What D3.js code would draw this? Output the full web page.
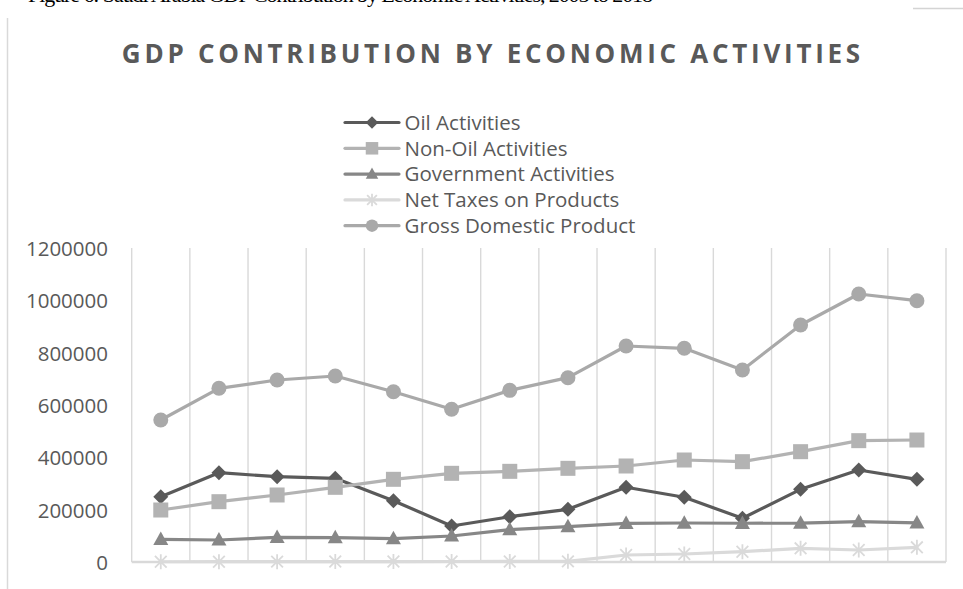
<!DOCTYPE html>
<html>
<head>
<meta charset="utf-8">
<script src="https://cdn.jsdelivr.net/npm/d3@7"></script>
<style>
  html, body { margin: 0; padding: 0; background: #ffffff; }
  svg { display: block; }
</style>
</head>
<body>
<svg id="chart" width="963" height="589"></svg>
<script>
// Years covered by the series (one point per year)
const categories = ["2005","2006","2007","2008","2009","2010","2011","2012","2013","2014","2015","2016","2017","2018"];

const seriesNames = ["Oil Activities","Non-Oil Activities","Government Activities","Net Taxes on Products","Gross Domestic Product"];

const oilActivities     = [249600, 341300, 326000, 319900, 234300, 137600, 173100, 201400, 285500, 247300, 167000, 277800, 351600, 316000];
const nonOilActivities  = [198700, 230500, 256100, 285400, 316000, 338900, 346500, 358000, 366900, 389800, 383400, 421600, 463700, 466200];
const govActivities     = [86700, 84100, 94400, 93000, 89000, 99400, 123600, 135000, 147800, 149000, 148000, 148500, 154100, 149500];
const netTaxes          = [1000, 1200, 1400, 1600, 1800, 2000, 2200, 2400, 26800, 30600, 39500, 52200, 45900, 56000];
const grossDomestic     = [542700, 663800, 695500, 710800, 650900, 583500, 656000, 704400, 825500, 816700, 733800, 905700, 1024200, 998600];

const yTicks = [0, 200000, 400000, 600000, 800000, 1000000, 1200000];

const seriesValues = [oilActivities, nonOilActivities, govActivities, netTaxes, grossDomestic];
const seriesColors = ["#5a5a5a", "#b3b3b3", "#878787", "#dadada", "#a9a9a9"];
const seriesMarkers = ["diamond", "square", "triangle", "star", "circle"];

const svg = d3.select("#chart");
const W = 963, H = 589;
const plot = { left: 131.7, right: 946, top: 248, bottom: 562 };
const textColor = "#595959";
const gridColor = "#d9d9d9";
const font = "'Open Sans', 'Noto Sans', sans-serif";

// Figure caption running off the top edge of the page
svg.append("text")
  .attr("x", 28).attr("y", 1.5)
  .attr("font-family", "'Liberation Serif', serif")
  .attr("font-size", 22)
  .attr("textLength", 625)
  .attr("lengthAdjust", "spacing")
  .attr("fill", "#000")
  .text("Figure 6: Saudi Arabia GDP Contribution by Economic Activities, 2005 to 2018");

// Chart frame fragments
svg.append("line")
  .attr("x1", 7.5).attr("x2", 7.5).attr("y1", 18).attr("y2", H)
  .attr("stroke", gridColor).attr("stroke-width", 1.5);
svg.append("line")
  .attr("x1", 913).attr("x2", W).attr("y1", 8.5).attr("y2", 8.5)
  .attr("stroke", "#d4d4d4").attr("stroke-width", 1.5);

// Title, spread to its full width
const title = svg.append("text")
  .attr("x", 491).attr("y", 63)
  .attr("text-anchor", "middle")
  .attr("font-family", font)
  .attr("font-weight", 700)
  .attr("font-size", 26)
  .attr("fill", textColor)
  .text("GDP CONTRIBUTION BY ECONOMIC ACTIVITIES");
{
  const str = title.text();
  const natural = title.node().getComputedTextLength();
  const spacing = (742 - natural) / (str.length);
  title.attr("letter-spacing", spacing + "px").attr("x", 491 + spacing / 2);
}

// Scales
const x = d3.scaleBand().domain(categories).range([plot.left, plot.right]).padding(0);
const y = d3.scaleLinear().domain([0, 1200000]).range([plot.bottom, plot.top]);
const cx = d => x(d) + x.bandwidth() / 2;

// Vertical gridlines at category boundaries
const boundaries = categories.map(c => x(c)).concat([x(categories[categories.length - 1]) + x.bandwidth()]);
svg.append("g").selectAll("line").data(boundaries).join("line")
  .attr("x1", d => d).attr("x2", d => d)
  .attr("y1", plot.top).attr("y2", plot.bottom)
  .attr("stroke", gridColor).attr("stroke-width", 1.4);

// Category axis baseline
svg.append("line")
  .attr("x1", plot.left).attr("x2", plot.right)
  .attr("y1", plot.bottom).attr("y2", plot.bottom)
  .attr("stroke", gridColor).attr("stroke-width", 2.4);

// Value axis labels
const yAxis = svg.append("g")
  .attr("transform", `translate(${108 + 0},0)`)
  .call(d3.axisLeft(y).tickValues(yTicks).tickFormat(d3.format("d")).tickSize(0).tickPadding(0));
yAxis.select(".domain").remove();
yAxis.selectAll("text")
  .attr("font-family", font)
  .attr("font-size", 20.5)
  .attr("fill", textColor)
  .attr("dy", "0.36em");

// Marker shapes
function drawMarker(g, type, color, px, py, s) {
  const h = s / 2;
  if (type === "diamond") {
    g.append("path").attr("d", `M${px},${py - h}L${px + h},${py}L${px},${py + h}L${px - h},${py}Z`).attr("fill", color);
  } else if (type === "square") {
    g.append("rect").attr("x", px - h).attr("y", py - h).attr("width", s).attr("height", s).attr("fill", color);
  } else if (type === "triangle") {
    g.append("path").attr("d", `M${px},${py - h * 1.05}L${px + h},${py + h * 0.75}L${px - h},${py + h * 0.75}Z`).attr("fill", color);
  } else if (type === "circle") {
    g.append("circle").attr("cx", px).attr("cy", py).attr("r", h).attr("fill", color);
  } else if (type === "star") {
    const d = h * 0.78;
    g.append("path")
      .attr("d", `M${px - d},${py - d}L${px + d},${py + d}M${px + d},${py - d}L${px - d},${py + d}M${px},${py - h}L${px},${py + h}`)
      .attr("stroke", color).attr("stroke-width", 1.8).attr("fill", "none");
  }
}

// Series lines and markers
const line = d3.line().x(d => cx(d.cat)).y(d => y(d.v));
seriesValues.forEach((vals, i) => {
  const g = svg.append("g");
  const pts = categories.map((c, j) => ({ cat: c, v: vals[j] }));
  g.append("path").attr("d", line(pts))
    .attr("fill", "none").attr("stroke", seriesColors[i])
    .attr("stroke-width", 3.2).attr("stroke-linejoin", "round").attr("stroke-linecap", "round");
  pts.forEach(p => drawMarker(g, seriesMarkers[i], seriesColors[i], cx(p.cat), y(p.v), 15));
});

// Legend
const legend = svg.append("g");
seriesNames.forEach((name, i) => {
  const ly = 122.5 + i * 25.8;
  const g = legend.append("g");
  g.append("line").attr("x1", 345).attr("x2", 399).attr("y1", ly).attr("y2", ly)
    .attr("stroke", seriesColors[i]).attr("stroke-width", 3.2).attr("stroke-linecap", "round");
  drawMarker(g, seriesMarkers[i], seriesColors[i], 372, ly, 12.5);
  g.append("text").attr("x", 404.5).attr("y", ly).attr("dy", "0.36em")
    .attr("font-family", font).attr("font-size", 20.5).attr("fill", textColor)
    .text(name);
});
</script>
</body>
</html>
